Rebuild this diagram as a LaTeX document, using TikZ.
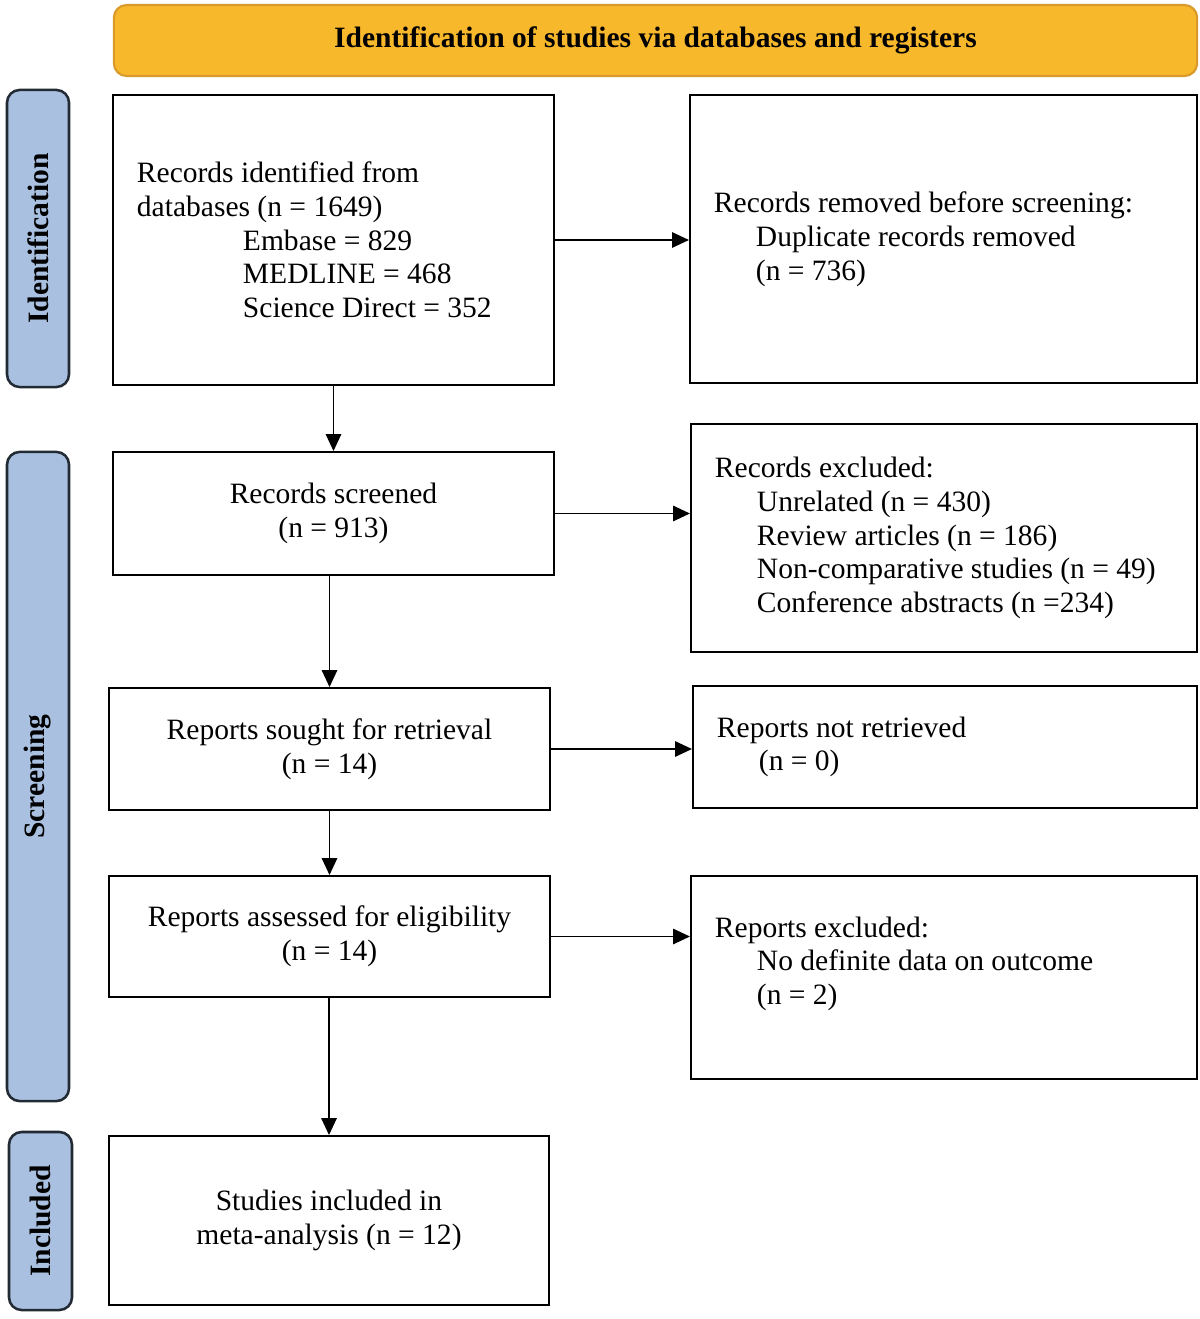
\documentclass[tikz,border=0pt]{standalone}
\usepackage{fontspec}
\setmainfont{Liberation Serif}
\usetikzlibrary{positioning}
\usetikzlibrary{arrows.meta}
\definecolor{headfill}{HTML}{F8B82C}
\definecolor{headdraw}{HTML}{D99A2B}
\definecolor{sidefill}{HTML}{A9C0E0}
\definecolor{sidedraw}{HTML}{222A33}
\tikzset{
    headnode/.style = {rectangle, rounded corners=9pt, line width=1.5pt, draw=headdraw, fill=headfill, align=center, font=\fontsize{21}{25}\selectfont\bfseries, text=black},
    sidenode/.style = {rectangle, rounded corners=9pt, line width=1.8pt, draw=sidedraw, fill=sidefill, rotate=90, align=center, font=\fontsize{21}{25}\selectfont\bfseries, text=black},
    boxc/.style = {rectangle, line width=1.4pt, draw=black, align=center, font=\fontsize{21}{24}\selectfont, text=black},
    boxl/.style = {rectangle, line width=1.4pt, draw=black, align=flush left, inner xsep=0.6cm, font=\fontsize{21}{24}\selectfont, text=black},
    edgea/.style = {-{Triangle[length=12pt,width=11pt]}, line width=1pt, black}
}
\newcommand{\ind}{\hspace*{1.05cm}}
\newcommand{\indb}{\hspace*{2.65cm}}
\begin{document}
\begin{tikzpicture}[x=0.025cm, y=-0.025cm]
\useasboundingbox (0,0) rectangle (1200,1319);

% header and stage labels
\node[headnode, minimum width=27.075cm, minimum height=1.775cm] at (655.5, 40.5) (head) {Identification of studies via databases and registers};
\node[sidenode, minimum width=7.425cm, minimum height=1.55cm] at (38, 238.5) (sident) {Identification};
\node[sidenode, minimum width=16.225cm, minimum height=1.55cm] at (38, 776.5) (sscreen) {Screening};
\node[sidenode, minimum width=4.45cm, minimum height=1.575cm] at (40.5, 1221) (sincl) {Included};

% left column
\node[boxl, minimum width=11.025cm, minimum height=7.25cm, text width=9.825cm] at (333.5, 240) (ident) {Records identified from\\databases (n = 1649)\\\indb Embase = 829\\\indb MEDLINE = 468\\\indb Science Direct = 352};
\node[boxc, minimum width=11.025cm, minimum height=3.075cm] at (333.5, 513.5) (screened) {Records screened\\(n = 913)};
\node[boxc, minimum width=11.025cm, minimum height=3.05cm] at (329.5, 749) (sought) {Reports sought for retrieval\\(n = 14)};
\node[boxc, minimum width=11.025cm, minimum height=3.025cm] at (329.5, 936.5) (assessed) {Reports assessed for eligibility\\(n = 14)};
\node[boxc, minimum width=11.0cm, minimum height=4.225cm] at (329, 1220.5) (included) {Studies included in\\meta-analysis (n = 12)};

% right column
\node[boxl, minimum width=12.675cm, minimum height=7.2cm, text width=11.475cm] at (943.5, 239) (removed) {Records removed before screening:\\\ind Duplicate records removed\\\ind (n = 736)};
\node[boxl, minimum width=12.65cm, minimum height=5.7cm, text width=11.45cm] at (944, 538) (excluded) {Records excluded:\\\ind Unrelated (n = 430)\\\ind Review articles (n = 186)\\\ind Non-comparative studies (n = 49)\\\ind Conference abstracts (n =234)};
\node[boxl, minimum width=12.6cm, minimum height=3.05cm, text width=11.4cm] at (945, 747) (notretr) {Reports not retrieved\\\ind (n = 0)};
\node[boxl, minimum width=12.65cm, minimum height=5.075cm, text width=11.45cm] at (944, 977.5) (repexcl) {Reports excluded:\\\ind No definite data on outcome\\\ind (n = 2)\\~};

% connectors
\draw[edgea] (ident) -- (ident.east -| removed.west);
\draw[edgea] (screened) -- (screened.east -| excluded.west);
\draw[edgea] (sought) -- (sought.east -| notretr.west);
\draw[edgea] (assessed) -- (assessed.east -| repexcl.west);
\draw[edgea] (ident) -- (screened);
\draw[edgea] (sought.north |- screened.south) -- (sought);
\draw[edgea] (sought) -- (assessed);
\draw[edgea] (assessed.south -| included.north) -- (included);

\end{tikzpicture}
\end{document}
